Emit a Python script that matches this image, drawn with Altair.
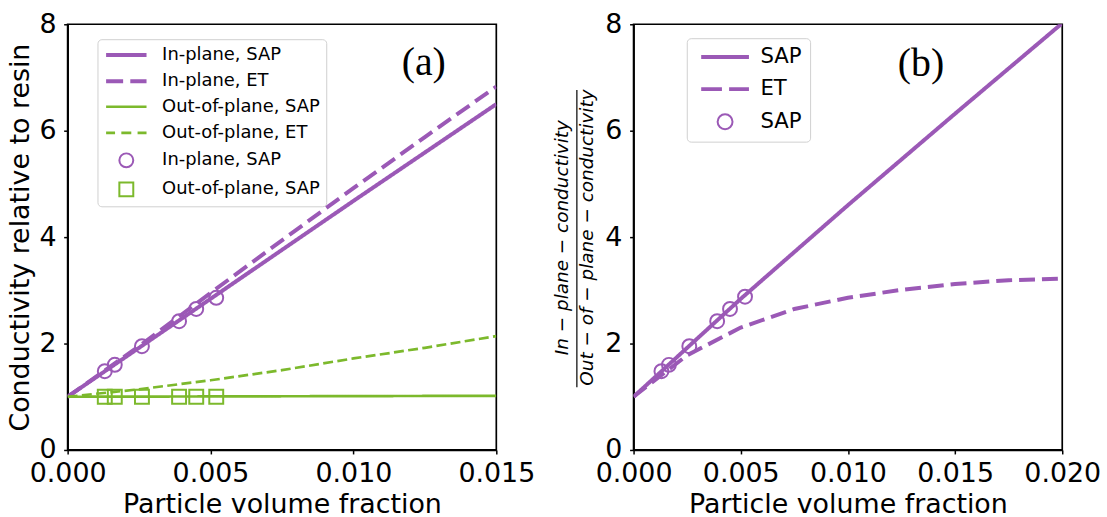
import altair as alt
import pandas as pd

# ---------------- data ----------------
# Panel (a): conductivity relative to resin
phi_a = [0.0, 0.0025, 0.005, 0.0075, 0.010, 0.0125, 0.015]
in_sap_a = [1.0, 1.92, 2.84, 3.76, 4.68, 5.59, 6.50]
in_et_a = [1.0, 1.95, 2.95, 3.94, 4.92, 5.88, 6.83]
out_sap_a = [1.0, 1.003, 1.006, 1.009, 1.012, 1.015, 1.018]
out_et_a = [1.0, 1.14, 1.31, 1.50, 1.72, 1.92, 2.14]

phi_pts = [0.0013, 0.00165, 0.0026, 0.0039, 0.0045, 0.0052]
in_pts_a = [1.48, 1.60, 1.95, 2.42, 2.65, 2.86]
out_pts_a = [1.0, 1.0, 1.0, 1.0, 1.0, 1.0]

# Panel (b): in-plane / out-of-plane ratio
phi_b = [0.0, 0.0025, 0.005, 0.0075, 0.010, 0.0125, 0.015, 0.0175, 0.020]
ratio_sap_b = [1.0, 1.92, 2.84, 3.72, 4.60, 5.46, 6.32, 7.17, 8.02]
ratio_et_b = [1.0, 1.78, 2.30, 2.65, 2.86, 3.01, 3.12, 3.19, 3.22]
ratio_pts_b = [1.48, 1.60, 1.95, 2.42, 2.65, 2.88]

labels_a = ["In-plane, SAP", "In-plane, ET", "Out-of-plane, SAP",
            "Out-of-plane, ET", "In-plane, SAP", "Out-of-plane, SAP"]
labels_b = ["SAP", "ET", "SAP"]
x_ticks_a = [0.0, 0.005, 0.010, 0.015]
x_ticks_b = [0.0, 0.005, 0.010, 0.015, 0.020]
y_ticks = [0, 2, 4, 6, 8]

# ---------------- styles ----------------
PURPLE = "#9b59b6"
GREEN = "#7cb92c"
FONT = "DejaVu Sans"

keys_a = [f"{l}|{i}" for i, l in enumerate(labels_a)]
keys_b = [f"{l}|{i}" for i, l in enumerate(labels_b)]

colors_a = [PURPLE, PURPLE, GREEN, GREEN, PURPLE, GREEN]
widths_a = [4, 4, 2.7, 2.7, 2, 2]
dash_a = [[1, 0], [16, 7], [1, 0], [10, 4.4]]
shapes_a = [
    "M-2.54 0 H2.54",
    "M-2.54 0 H-0.4 M0.5 0 H2.54",
    "M-2.54 0 H2.54",
    "M-2.54 0 H-1.415 M-0.625 0 H0.625 M1.415 0 H2.54",
    "M0.875 0 A0.875 0.875 0 1 1 -0.875 0 A0.875 0.875 0 1 1 0.875 0 Z",
    "M-0.875 -0.875 H0.875 V0.875 H-0.875 Z",
]

colors_b = [PURPLE, PURPLE, PURPLE]
widths_b = [4, 4, 2]
dash_b = [[1, 0], [16, 7]]
shapes_b = [
    "M-2.667 0 H2.667",
    "M-2.667 0 H-0.35 M0.45 0 H2.667",
    "M0.833 0 A0.833 0.833 0 1 1 -0.833 0 A0.833 0.833 0 1 1 0.833 0 Z",
]

axis_common = dict(
    labelFont=FONT, titleFont=FONT, labelFontSize=27,
    labelColor="black", titleColor="black", titleFontWeight="normal",
    tickColor="black", tickSize=4, tickWidth=1.5, domainColor="black",
    domainWidth=1.7, grid=False, labelFlush=False, labelOverlap=False,
)


def x_axis(ticks):
    return alt.Axis(values=ticks, format=".3f", title="Particle volume fraction",
                    labelBaseline="alphabetic", labelPadding=27.7, titleFontSize=27,
                    titleY=63, titleBaseline="alphabetic", **axis_common)


def make_panel(line_series, pts, keys, colors, widths, dashes, shapes, xdom, xticks,
               ytitle, ytitle_kw, leg_kw, size, tag, tag_x, tag_y, extra=None):
    xs = alt.Scale(domain=xdom, nice=False, zero=False)
    ys = alt.Scale(domain=[0, 8], nice=False)
    y_axis = alt.Axis(values=y_ticks, format="d", title=ytitle, labelPadding=7.7,
                      titleBaseline="middle", titleY=214, **ytitle_kw, **axis_common)
    legend = alt.Legend(
        title=None, orient="none", labelExpr="split(datum.label, '|')[0]",
        fillColor="white", strokeColor="#d0d0d0", cornerRadius=4,
        labelFont=FONT, labelColor="black", symbolOpacity=1, **leg_kw)

    layers = []
    for i, (xv, yv) in enumerate(line_series):
        df = pd.DataFrame({"x": xv, "y": yv})
        layers.append(
            alt.Chart(df).mark_line(
                clip=True, color=colors[i], strokeWidth=widths[i], strokeDash=dashes[i]
            ).encode(
                x=alt.X("x:Q", scale=xs, axis=x_axis(xticks)),
                y=alt.Y("y:Q", scale=ys, axis=y_axis),
            )
        )
    pt_layer = alt.Chart(pts).mark_point(filled=False, opacity=1, size=size, clip=True).encode(
        x=alt.X("x:Q", scale=xs, axis=x_axis(xticks)),
        y=alt.Y("y:Q", scale=ys, axis=y_axis),
        color=alt.Color("s:N", scale=alt.Scale(domain=keys, range=colors), legend=legend),
        shape=alt.Shape("s:N", scale=alt.Scale(domain=keys, range=shapes), legend=legend),
        strokeWidth=alt.StrokeWidth("s:N", scale=alt.Scale(type="ordinal", domain=keys, range=widths),
                                    legend=legend),
    )
    layers.append(pt_layer)
    tag_layer = alt.Chart(pd.DataFrame({"t": [tag]})).mark_text(
        font="Liberation Serif", fontSize=40, color="black", align="center", baseline="middle"
    ).encode(text="t:N", x=alt.value(tag_x), y=alt.value(tag_y))
    layers.append(tag_layer)
    if extra is not None:
        layers.append(extra)
    return alt.layer(*layers).properties(width=431, height=428)


pts_a = pd.concat([
    pd.DataFrame({"x": phi_pts, "y": in_pts_a, "s": keys_a[4]}),
    pd.DataFrame({"x": phi_pts, "y": out_pts_a, "s": keys_a[5]}),
])
pts_b = pd.DataFrame({"x": phi_pts, "y": ratio_pts_b, "s": keys_b[2]})

panel_a = make_panel(
    [(phi_a, in_sap_a), (phi_a, in_et_a), (phi_a, out_sap_a), (phi_a, out_et_a)],
    pts_a, keys_a, colors_a, widths_a, dash_a, shapes_a, [0, 0.015], x_ticks_a,
    "Conductivity relative to resin", dict(titleX=-47.5, titleFontSize=27),
    dict(legendX=30, legendY=15, padding=6, symbolSize=256, symbolOffset=13,
         labelOffset=26, rowPadding=7.2, labelFontSize=18),
    256, "(a)", 358, 39,
)

bar = alt.Chart(pd.DataFrame({"k": [0]})).mark_rule(color="black", strokeWidth=1.2).encode(
    x=alt.value(-57), y=alt.value(66), y2=alt.value(365))

panel_b = make_panel(
    [(phi_b, ratio_sap_b), (phi_b, ratio_et_b)],
    pts_b, keys_b, colors_b, widths_b, dash_b, shapes_b, [0, 0.020], x_ticks_b,
    ["In \u2212 plane \u2212 conductivity", "Out \u2212 of \u2212 plane \u2212 conductivity"],
    dict(titleX=-72.5, titleFontStyle="italic", titleLineHeight=25, titleFontSize=18.5),
    dict(legendX=53.5, legendY=14, padding=8, symbolSize=324, symbolOffset=19.5,
         labelOffset=24.5, rowPadding=10.2, labelFontSize=21.3),
    282, "(b)", 289, 40, extra=bar,
)

chart = alt.hconcat(panel_a, panel_b, spacing=15).resolve_scale(
    x="independent", y="independent", color="independent", shape="independent",
    strokeWidth="independent"
).resolve_legend(color="independent", shape="independent", strokeWidth="independent").properties(
    padding={"left": 5, "top": 8, "right": 5, "bottom": 0}, background="white"
).configure_view(stroke="black", strokeWidth=1.7)

chart.save("out.html", embed_options={"renderer": "svg", "actions": False})
